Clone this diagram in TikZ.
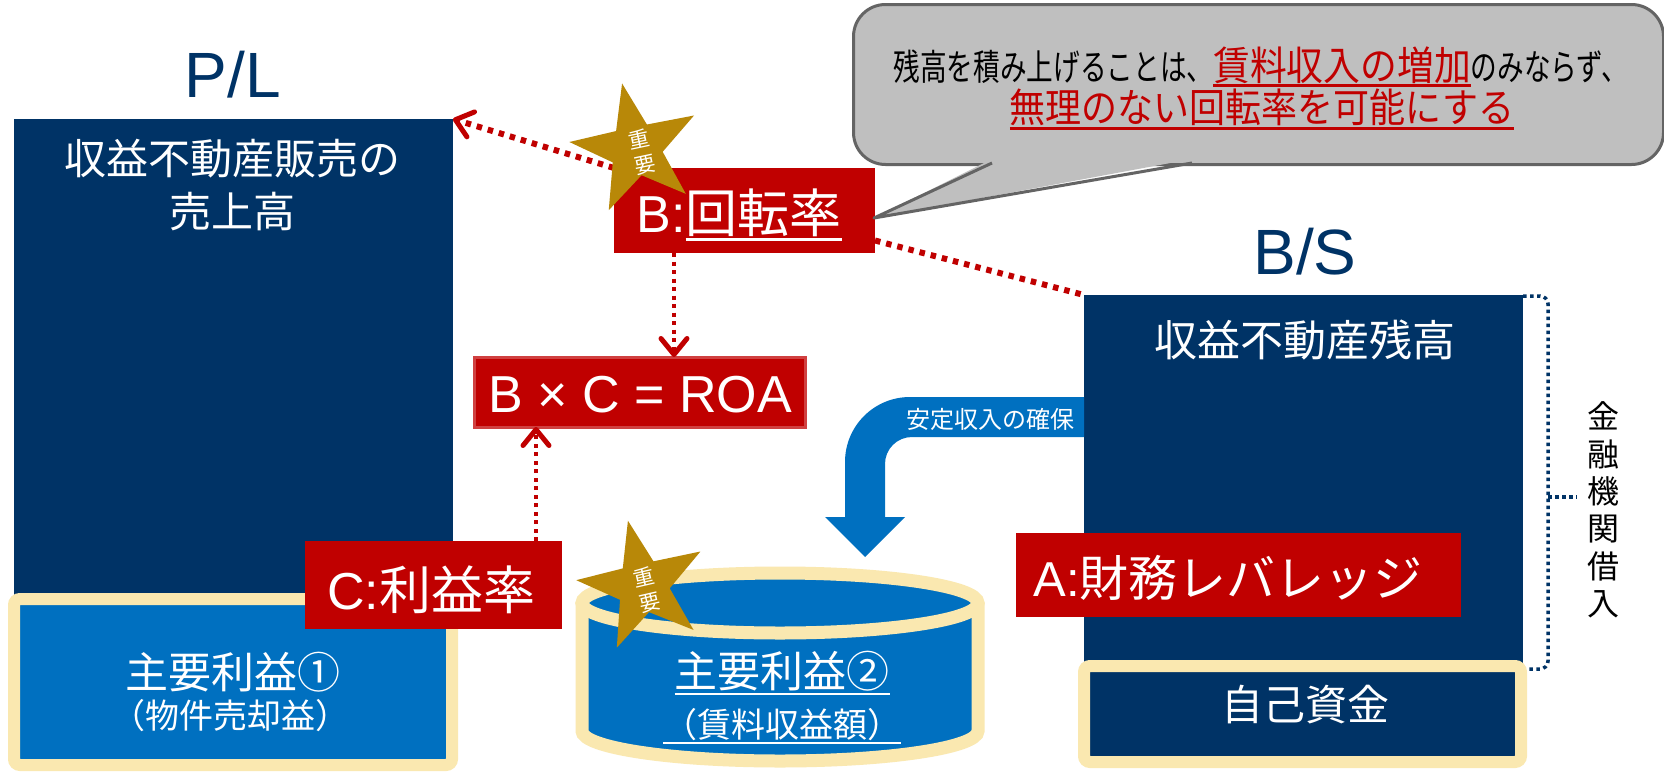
\documentclass[tikz,border=0pt]{standalone}
\usepackage{graphicx}
\usepackage{fontspec}
\setmainfont{Noto Sans CJK JP}
\newfontfamily\lat{Liberation Sans}
\usetikzlibrary{shapes.geometric,arrows.meta}
\definecolor{navy}{RGB}{0,51,102}
\definecolor{mblue}{RGB}{0,112,192}
\definecolor{mred}{RGB}{192,0,0}
\definecolor{gold}{RGB}{184,136,8}
\definecolor{cream}{RGB}{250,232,176}
\definecolor{bubgray}{RGB}{191,191,191}
\definecolor{bubedge}{RGB}{100,100,100}
\newcommand\fs[1]{\fontsize{#1pt}{#1pt}\selectfont}
\newcommand\fsl[2]{\fontsize{#1pt}{#2pt}\selectfont}
\newcommand\myul[3]{\leavevmode\vtop{\hbox{#3}\kern#1\hrule height #2\relax}}
\begin{document}
\begin{tikzpicture}[x=1pt,y=-1pt,
  navybox/.style={fill=navy, draw=none, inner sep=0pt, outer sep=0pt},
  redbox/.style={fill=mred, draw=none, inner sep=0pt, outer sep=0pt},
  creambox/.style={draw=cream, line width=12pt, rounded corners=6pt, inner sep=0pt, outer sep=0pt},
  wtext/.style={text=white, inner sep=0pt},
  reddot/.style={draw=mred, line width=6pt, dash pattern=on 5.5pt off 6pt},
  reddotv/.style={draw=mred, line width=4pt, dash pattern=on 4pt off 4.5pt},
  vee/.style={-{Straight Barb[length=16pt,width=26pt,line width=5pt,round]}},
  starshape/.style={star, star points=5, star point ratio=2.5, minimum size=134pt, inner sep=0pt, fill=gold, draw=none},
  startext/.style={text=white, font=\fsl{21}{26}, align=center, inner sep=0pt},
  bubble/.style={fill=bubgray, draw=bubedge, line width=3pt, rounded corners=32pt, inner sep=0pt}
]
\useasboundingbox (0,0) rectangle (1664,771);
\fill[white] (0,0) rectangle (1664,771);

% ---------------- P/L ----------------
\node[text=navy, font=\lat\fs{64}, anchor=base, inner sep=0pt] (pltitle) at (233,97) {P/L};
\node[navybox, minimum width=439pt, minimum height=480pt, anchor=north west] (plbox) at (14,119) {};
\node[wtext, font=\fs{42}, anchor=base] (pltext1) at (232,174) {収益不動産販売の};
\node[wtext, font=\fs{42}, anchor=base] (pltext2) at (232,227) {売上高};

\node[creambox, fill=mblue, minimum width=438pt, minimum height=166pt, anchor=north west] (profit1) at (14,599) {};
\node[wtext, font=\fs{43}, anchor=base] (p1a) at (233,688) {主要利益①};
\node[wtext, font=\fs{34}, anchor=base] (p1b) at (230,728) {（物件売却益）};

\node[redbox, minimum width=257pt, minimum height=88pt, anchor=north west] (cbox) at (305,541) {};
\node[wtext, font=\fs{52}, anchor=base] (ctext) at (431,609) {{\lat C:}利益率};

% ---------------- cylinder ----------------
\coordinate (cyl) at (780,603);
\fill[mblue] (582,603) -- (582,731) arc[start angle=180, end angle=360, x radius=198pt, y radius=30pt] -- (978,603) -- cycle;
\draw[cream, line width=13pt] (582,603) -- (582,731) arc[start angle=180, end angle=360, x radius=198pt, y radius=30pt] -- (978,603);
\draw[cream, line width=13pt, fill=mblue] (cyl) ellipse [x radius=198pt, y radius=30pt];
\node[wtext, font=\fs{43}, anchor=base] (p2a) at (782,687) {\myul{2pt}{2.5pt}{主要利益②}};
\node[wtext, font=\fs{34}, anchor=base] (p2b) at (782,737) {\myul{1.5pt}{2.5pt}{（賃料収益額）}};
\node[starshape, rotate=13] (star2) at (643,586) {};
\node[startext, rotate=13] (star2t) at (647,590) {重\\要};

% ---------------- ROA ----------------
\node[redbox, draw=mred!75, line width=3pt, minimum width=331pt, minimum height=70pt] (roa) at (640,392) {};
\node[wtext, font=\lat\fs{52}, anchor=base] (roatext) at (640,412) {B × C = ROA};

% ---------------- B box ----------------
\node[redbox, minimum width=261pt, minimum height=85pt, anchor=north west] (bbox) at (614,168) {};
\node[wtext, font=\fs{52}, anchor=base] (btext) at (739,232) {{\lat B:}\myul{1.5pt}{3pt}{回転率}};

% ---------------- B/S ----------------
\node[text=navy, font=\lat\fs{64}, anchor=base, inner sep=0pt] (bstitle) at (1305,274) {B/S};
\node[navybox, minimum width=439pt, minimum height=372pt, anchor=north west] (bsbox) at (1084,295) {};
\node[wtext, font=\fs{43}, anchor=base] (bstext) at (1305,356) {収益不動産残高};
\node[creambox, fill=navy, minimum width=437pt, minimum height=96pt, anchor=north west] (own) at (1084,666) {};
\node[wtext, font=\fs{42}, anchor=base] (owntext) at (1305,720) {自己資金};
\node[redbox, minimum width=445pt, minimum height=84pt, anchor=north west] (abox) at (1016,533) {};
\node[wtext, font=\fs{49}, anchor=base] (atext) at (1228,596) {{\lat A:}財務レバレッジ};

% bracket
\coordinate (brtop) at (1523,296);
\coordinate (brbot) at (1527,669);
\coordinate (brmid) at (1548,497);
\coordinate (brtick) at (1577,497);
\draw[navy, line width=3.5pt, dash pattern=on 3.5pt off 3.5pt, rounded corners=8pt] (brtop) -- (1548,296) -- (1548,669) -- (brbot);
\draw[navy, line width=3.5pt, dash pattern=on 3.5pt off 3.5pt] (brmid) -- (brtick);
\node[text=black, font=\fsl{32}{37.4}, align=center, inner sep=0pt] (loan) at (1603,510) {金\\融\\機\\関\\借\\入};

% blue arrow
\fill[mblue] (1084,397) -- (910,397) .. controls (874,397) and (845,426) .. (845,462) -- (845,517) -- (825,517) -- (865,557) -- (905,517) -- (885,517) -- (885,464) .. controls (885,449) and (897,437) .. (912,437) -- (1084,437) -- cycle;
\node[wtext, font=\fs{24}] (arrtext) at (990,419) {安定収入の確保};

% ---------------- red connectors ----------------
\coordinate (b3) at (674,0);
\coordinate (c4) at (536,0);
\draw[reddot, vee] (bbox.north west) -- (plbox.north east);
\draw[reddot] ([yshift=-30pt]bbox.east) -- (bsbox.north west);
\draw[reddotv, vee] (bbox.south -| b3) -- (roa.north -| b3);
\draw[reddotv, vee] (cbox.north -| c4) -- (roa.south -| c4);

\node[starshape, rotate=12] (star1) at (636,149) {};
\node[startext, rotate=12] (star1t) at (642,152) {重\\要};

% ---------------- speech bubble ----------------
\node[bubble, minimum width=810pt, minimum height=160pt, anchor=north west] (bub) at (852,3) {};
\coordinate (tailL) at (992,163);
\coordinate (tailR) at (1192,163);
\coordinate (tailtip) at (874,218);
\fill[bubgray] (992,159) -- (tailtip) -- (1192,159) -- cycle;
\draw[bubedge, line width=3pt, line join=round] (tailL) -- (tailtip) -- (tailR);
\node[anchor=base, inner sep=0pt, text=black] (bt1) at (1261,80) {\scalebox{0.74}[1]{\fs{36}残高を積み上げることは、}{\color{mred}\scalebox{0.92}[1]{\myul{1pt}{2.5pt}{\fs{40}賃料収入の増加}}}\scalebox{0.74}[1]{\fs{36}のみならず、}};
\node[anchor=base, inner sep=0pt, text=mred] (bt2) at (1262,122) {\scalebox{0.9}[1]{\myul{2pt}{2.5pt}{\fs{40}無理のない回転率を可能にする}}};
\end{tikzpicture}
\end{document}
